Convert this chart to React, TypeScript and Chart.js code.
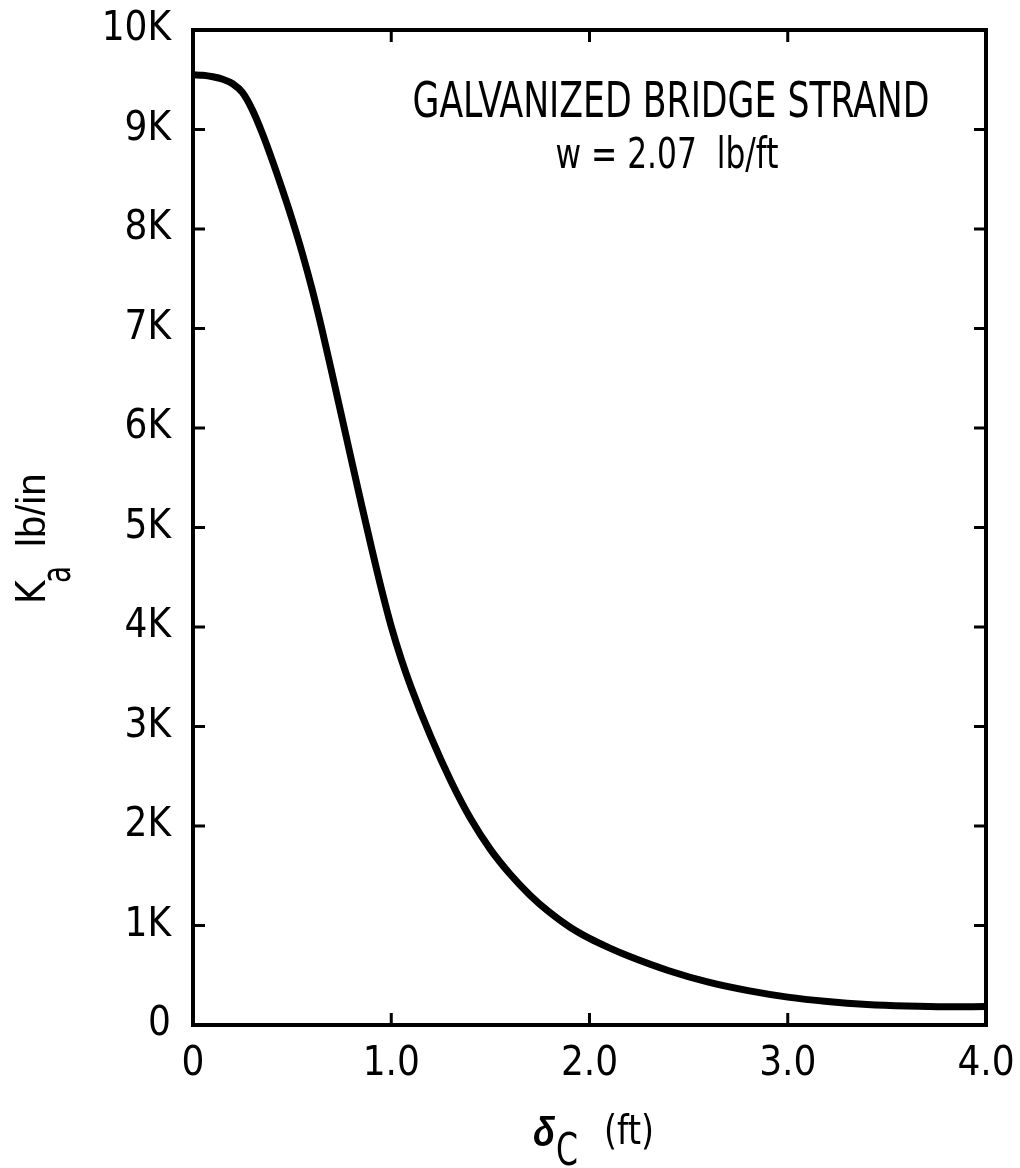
import React, { useEffect, useRef } from "react";
import { Chart, registerables } from "chart.js";

Chart.register(...registerables);

// Curve: centre deflection (ft) vs axial stiffness Ka (lb/in)
const deflectionFt = [0, 0.05, 0.1, 0.15, 0.2, 0.25, 0.3, 0.35, 0.4, 0.45, 0.5, 0.55, 0.6, 0.65, 0.7, 0.75, 0.8, 0.85, 0.9, 0.95, 1.0, 1.05, 1.1, 1.2, 1.3, 1.4, 1.5, 1.6, 1.7, 1.8, 1.9, 2.0, 2.1, 2.2, 2.4, 2.6, 2.8, 3.0, 3.2, 3.4, 3.6, 3.8, 4.0];
const stiffnessLbIn = [9550, 9545, 9530, 9505, 9460, 9370, 9195, 8960, 8690, 8400, 8095, 7765, 7400, 6995, 6560, 6115, 5670, 5230, 4800, 4385, 4005, 3680, 3395, 2895, 2455, 2075, 1765, 1515, 1305, 1130, 985, 870, 775, 690, 545, 430, 345, 280, 236, 206, 190, 183, 185];

const xTickLabels = ["0", "1.0", "2.0", "3.0", "4.0"];
const yTickLabels = ["0", "1K", "2K", "3K", "4K", "5K", "6K", "7K", "8K", "9K", "10K"];
const innerTickX = [1, 2, 3];
const innerTickY = [1000, 2000, 3000, 4000, 5000, 6000, 7000, 8000, 9000];
const noteLines = ["GALVANIZED BRIDGE STRAND", "w = 2.07  lb/ft"];
const yTitleMain = "K";
const yTitleSub = "a";
const yTitleUnit = "lb/in";
const xTitleMain = "δ";
const xTitleSub = "C";
const xTitleUnit = "(ft)";

const NARROW = "'Liberation Sans Narrow', 'DejaVu Sans Condensed', 'Liberation Sans', sans-serif";
const SANS = "'Liberation Sans', 'DejaVu Sans', sans-serif";

const W = 1020;
const H = 1168;
const AREA_LEFT = 193;
const AREA_RIGHT = 986;
const AREA_TOP = 30;
const AREA_BOTTOM = 1025;

const framePlugin = {
  id: "frameAndText",
  afterDraw(chart: any) {
    const { ctx, chartArea: a, scales } = chart;
    const x = scales.x;
    const y = scales.y;
    ctx.save();
    ctx.strokeStyle = "#000";
    ctx.fillStyle = "#000";
    ctx.lineWidth = 4;
    ctx.lineJoin = "miter";
    ctx.strokeRect(a.left, a.top, a.right - a.left, a.bottom - a.top);

    ctx.lineWidth = 3;
    ctx.beginPath();
    for (const v of innerTickX) {
      const px = x.getPixelForValue(v);
      ctx.moveTo(px, a.bottom);
      ctx.lineTo(px, a.bottom - 12);
      ctx.moveTo(px, a.top);
      ctx.lineTo(px, a.top + 12);
    }
    for (const v of innerTickY) {
      const py = y.getPixelForValue(v);
      ctx.moveTo(a.left, py);
      ctx.lineTo(a.left + 12, py);
      ctx.moveTo(a.right, py);
      ctx.lineTo(a.right - 12, py);
    }
    ctx.stroke();

    // annotation
    ctx.textBaseline = "alphabetic";
    ctx.textAlign = "center";
    ctx.font = `50px ${NARROW}`;
    ctx.fillText(noteLines[0], 671, 117, 517);
    ctx.font = `42px ${NARROW}`;
    ctx.fillText(noteLines[1], 667, 168, 223);

    // y title (rotated)
    ctx.save();
    ctx.translate(45, 604);
    ctx.rotate(-Math.PI / 2);
    ctx.textAlign = "left";
    ctx.font = `40px ${NARROW}`;
    ctx.fillText(yTitleMain, 0, 0, 27);
    ctx.fillText(yTitleSub, 21, 25, 17);
    ctx.font = `40px ${SANS}`;
    ctx.fillText(yTitleUnit, 57, 0, 84);
    ctx.restore();

    // x title
    ctx.textAlign = "left";
    ctx.font = `bold italic 40px ${SANS}`;
    ctx.fillText(xTitleMain, 533, 1146, 22);
    ctx.font = `44px ${NARROW}`;
    ctx.fillText(xTitleSub, 556, 1165, 22);
    ctx.font = `40px ${NARROW}`;
    ctx.fillText(xTitleUnit, 604, 1144, 50);
    ctx.restore();
  },
};

const zeroScalePadding = (s: any) => {
  s.paddingTop = 0;
  s.paddingBottom = 0;
  s.paddingLeft = 0;
  s.paddingRight = 0;
};

export default function App() {
  const ref = useRef<HTMLCanvasElement | null>(null);
  useEffect(() => {
    if (!ref.current) return;
    const chart = new Chart(ref.current, {
      type: "line",
      data: {
        datasets: [
          {
            data: deflectionFt.map((d, i) => ({ x: d, y: stiffnessLbIn[i] })),
            borderColor: "#000",
            borderWidth: 7,
            pointRadius: 0,
            fill: false,
            cubicInterpolationMode: "monotone",
          },
        ],
      },
      options: {
        responsive: false,
        animation: false,
        devicePixelRatio: 1,
        layout: { padding: { left: 0, right: W - AREA_RIGHT, top: AREA_TOP, bottom: 0 } },
        plugins: { legend: { display: false }, tooltip: { enabled: false }, title: { display: false } },
        scales: {
          x: {
            type: "linear",
            min: 0,
            max: 4,
            grid: { display: false, drawTicks: false },
            border: { display: false },
            afterFit: (s: any) => {
              s.height = H - AREA_BOTTOM;
              zeroScalePadding(s);
            },
            ticks: {
              stepSize: 1,
              padding: 16,
              color: "#000",
              font: { family: NARROW, size: 40 },
              maxRotation: 0,
              callback: (_v: any, i: number) => xTickLabels[i],
            },
          },
          y: {
            type: "linear",
            min: 0,
            max: 10000,
            grid: { display: false, drawTicks: false },
            border: { display: false },
            afterFit: (s: any) => {
              s.width = AREA_LEFT;
              zeroScalePadding(s);
            },
            ticks: {
              stepSize: 1000,
              padding: 22,
              color: "#000",
              font: { family: NARROW, size: 40 },
              callback: (_v: any, i: number) => yTickLabels[i],
            },
          },
        },
      },
      plugins: [framePlugin],
    });
    return () => chart.destroy();
  }, []);
  return (
    <div style={{ position: "absolute", left: 0, top: 0, width: W, height: H, background: "#fff" }}>
      <canvas ref={ref} width={W} height={H} style={{ width: W, height: H, display: "block" }} />
    </div>
  );
}
